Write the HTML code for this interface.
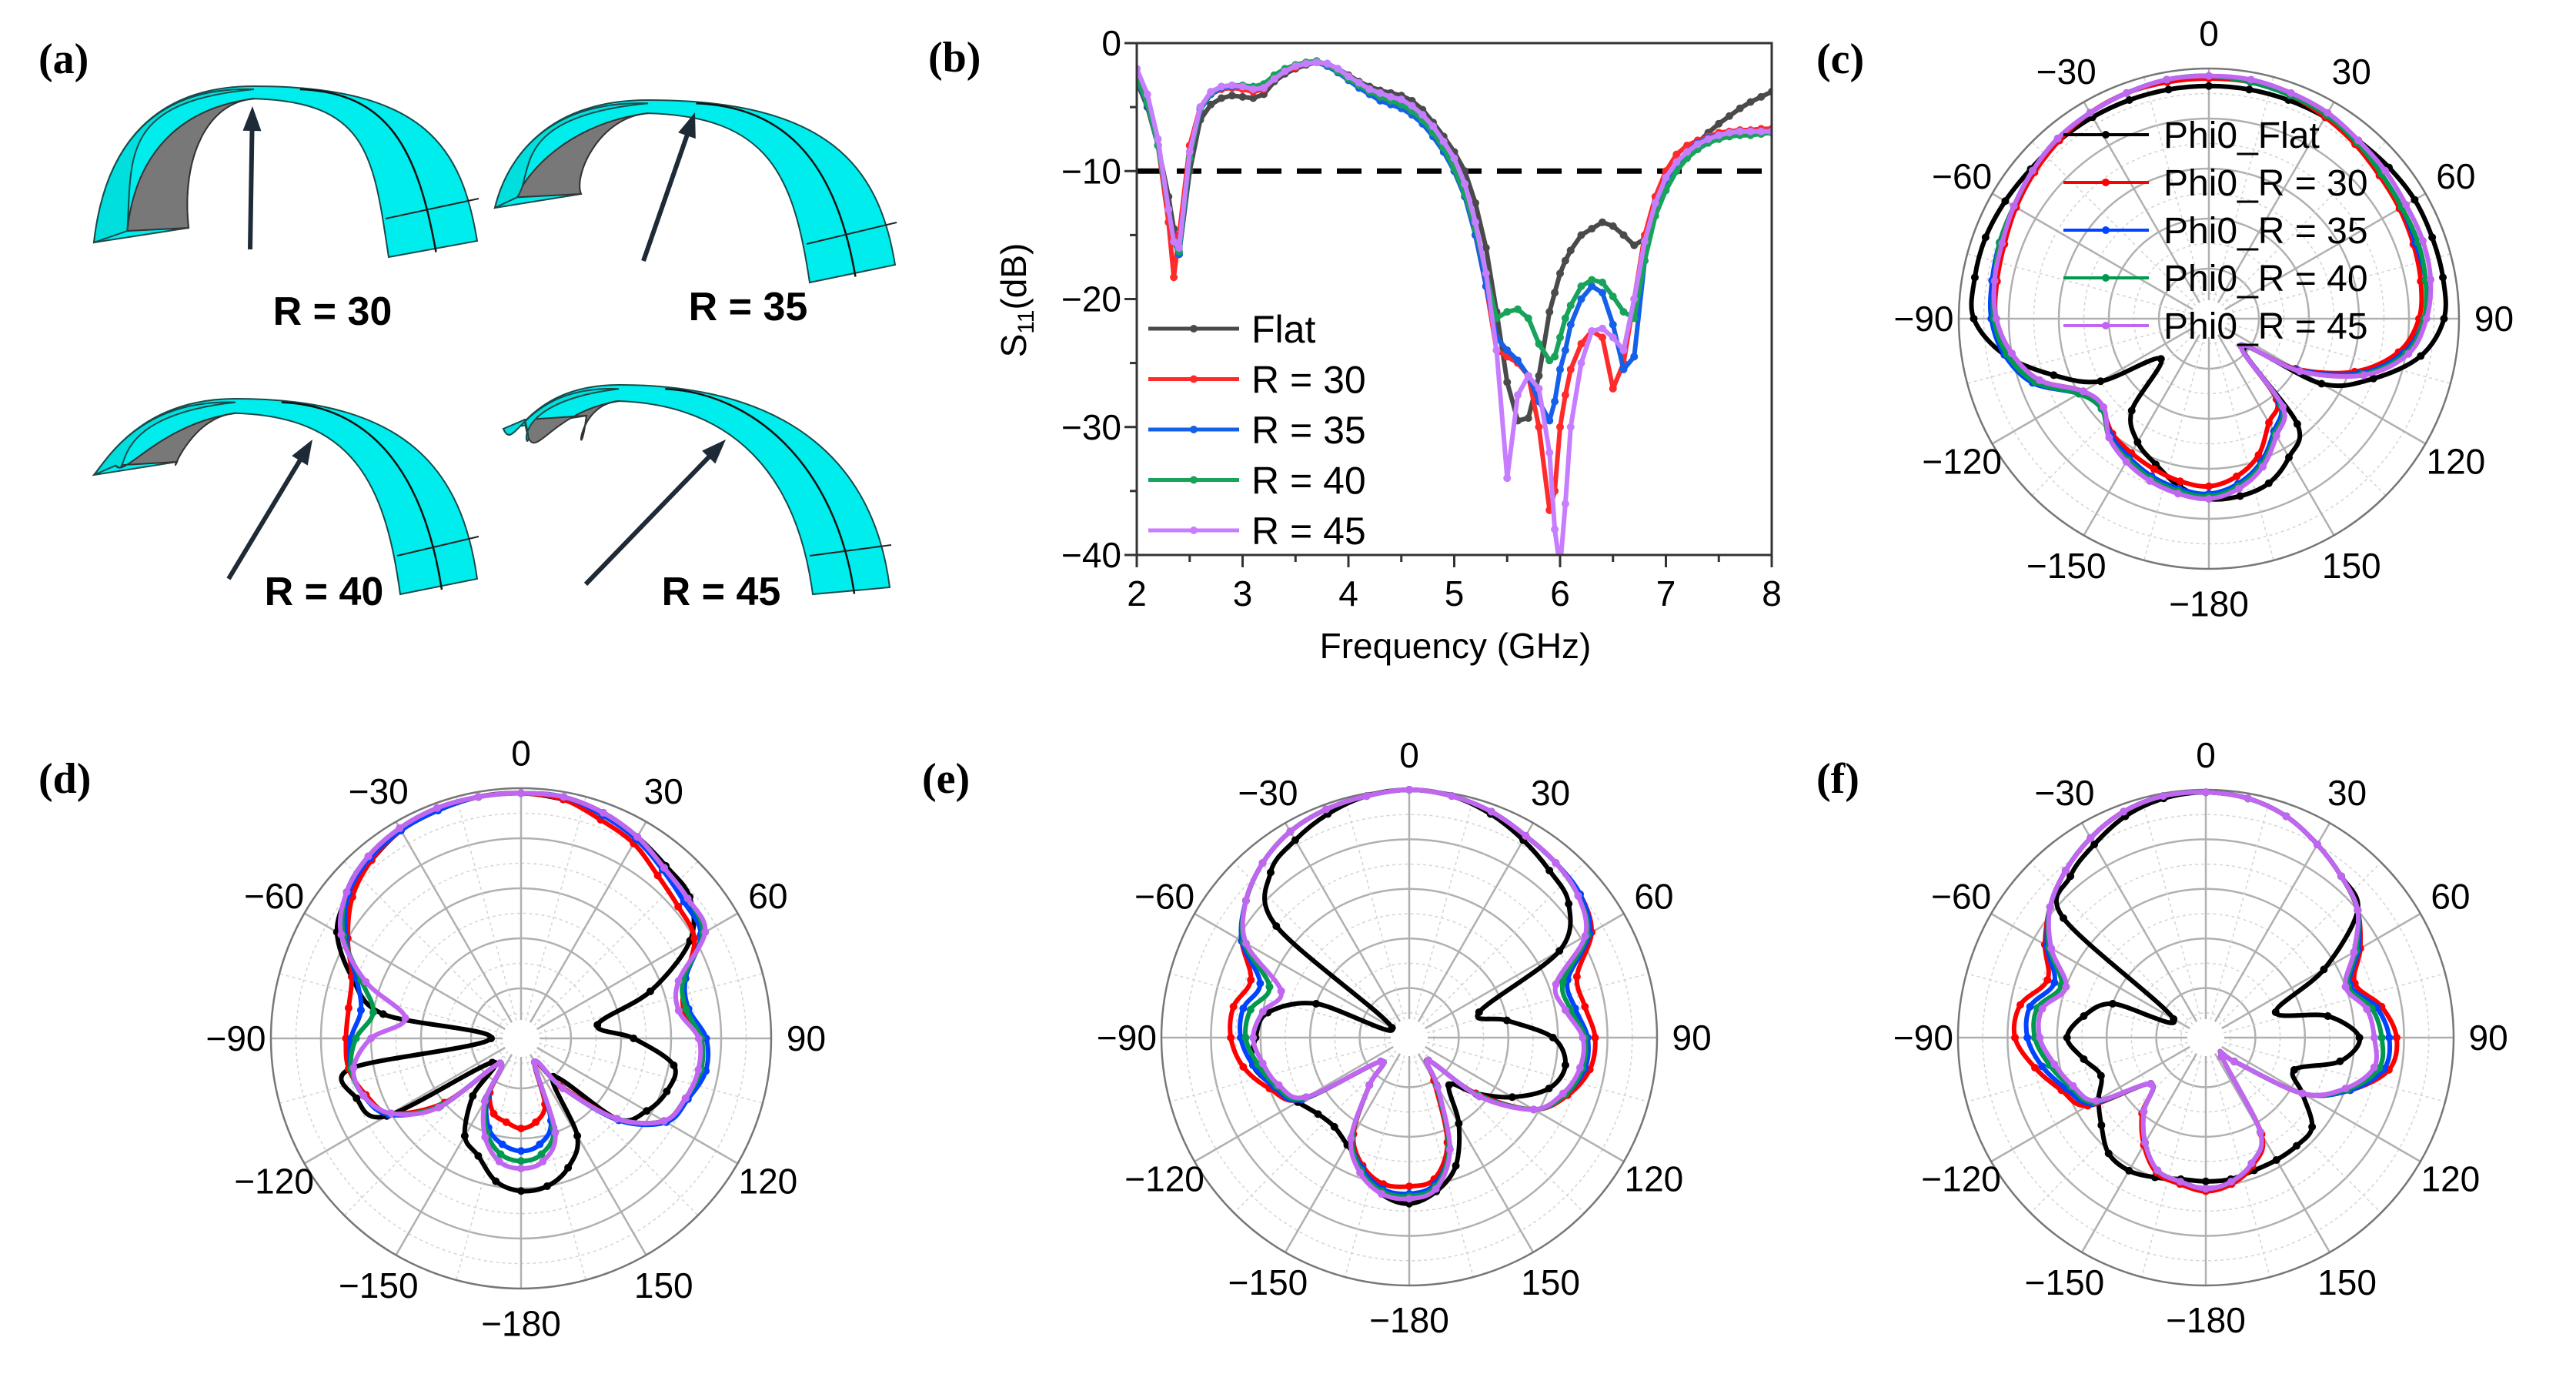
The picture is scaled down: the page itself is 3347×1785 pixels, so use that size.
<!DOCTYPE html>
<html><head><meta charset="utf-8"><style>
html,body{margin:0;padding:0;background:#fff;}
svg{display:block;font-family:"Liberation Sans",Arial,sans-serif;}
</style></head><body>
<svg id="fig" width="3347" height="1785" viewBox="0 0 3347 1785" xmlns="http://www.w3.org/2000/svg">
<rect width="3347" height="1785" fill="#fff"/>
<g id="panelA">
<text x="50" y="95" font-family="Liberation Serif,serif" font-weight="bold" font-size="56">(a)</text>
</g>
<g id="panelB"></g>
<g id="panelC"></g>
<g id="panelD"></g>
<g id="panelE"></g>
<g id="panelF"></g>
</svg>
<script>
// ---------- S11 data ----------
const freq=[2,2.1,2.2,2.3,2.35,2.4,2.5,2.6,2.7,2.8,2.9,3,3.1,3.2,3.3,3.4,3.5,3.6,3.7,3.8,3.9,4,4.1,4.2,4.3,4.4,4.5,4.6,4.7,4.8,4.9,5,5.1,5.2,5.3,5.4,5.5,5.6,5.7,5.8,5.9,5.95,6,6.05,6.1,6.2,6.3,6.4,6.5,6.6,6.7,6.8,6.9,7,7.1,7.2,7.3,7.4,7.5,7.6,7.7,7.8,7.9,8];
const s11Flat=[-3,-5,-8,-12,-14.5,-16.5,-10,-6,-4.8,-4.3,-4.1,-4.2,-4.3,-4,-3,-2.4,-2,-1.7,-1.5,-1.6,-2,-2.5,-3,-3.4,-3.7,-3.9,-4.1,-4.5,-5.2,-6.2,-7.3,-8.5,-10,-12.5,-16,-21,-26.5,-29.5,-29.3,-26,-21,-19.5,-18,-17,-16.2,-15,-14.5,-14,-14.3,-15,-15.8,-15.3,-13,-11,-9.5,-8.5,-7.8,-7,-6.3,-5.7,-5.1,-4.6,-4.2,-3.8];
const s11R30=[-2.5,-4.5,-8,-14,-18.3,-15,-8,-5,-4,-3.6,-3.5,-3.6,-3.8,-3.6,-2.8,-2.2,-1.9,-1.6,-1.5,-1.7,-2.1,-2.7,-3.3,-3.8,-4.2,-4.5,-4.8,-5.3,-6,-7,-8.3,-10,-12,-15,-19,-24,-24.5,-25,-26,-30,-36.5,-35,-30,-27.5,-25.5,-23.5,-22.5,-23,-27,-25,-20,-15,-12,-10,-8.7,-8,-7.6,-7.3,-7,-6.9,-6.8,-6.8,-6.7,-6.7];
const s11R35=[-2.8,-4.8,-8,-13,-15.5,-16.5,-9,-5.2,-4,-3.5,-3.4,-3.4,-3.5,-3.3,-2.6,-2.1,-1.8,-1.6,-1.5,-1.8,-2.3,-2.9,-3.5,-4,-4.5,-4.8,-5.1,-5.6,-6.3,-7.3,-8.5,-10,-12,-15,-19,-23,-24,-24.8,-26,-28,-29.5,-28,-25.5,-24,-22,-20,-19,-19.5,-22,-25.5,-24.5,-17,-13,-11,-9.5,-8.5,-7.8,-7.4,-7.2,-7,-6.9,-6.9,-6.9,-6.9];
const s11R40=[-2.7,-4.7,-8,-13,-15.5,-16.3,-9,-5.1,-3.9,-3.4,-3.3,-3.3,-3.4,-3.2,-2.5,-2,-1.7,-1.5,-1.4,-1.7,-2.2,-2.8,-3.3,-3.8,-4.2,-4.5,-4.8,-5.3,-6,-7,-8.2,-9.8,-11.8,-14.5,-18,-21.5,-21,-20.8,-21.5,-23.5,-24.8,-24.5,-23,-21.5,-20.5,-19,-18.5,-18.7,-19.8,-21,-21.5,-17,-13.5,-11.5,-10,-9,-8.3,-7.8,-7.5,-7.3,-7.2,-7.2,-7.1,-7];
const s11R45=[-2,-4,-7.5,-13,-15.5,-16,-8.5,-5,-3.8,-3.4,-3.3,-3.4,-3.6,-3.5,-2.8,-2.2,-1.8,-1.6,-1.5,-1.6,-2,-2.6,-3.1,-3.6,-3.9,-4.2,-4.4,-4.9,-5.6,-6.5,-7.7,-9,-11,-14,-18,-24,-34,-27.5,-26,-27,-32,-38,-41,-36,-30,-25,-22.5,-22.3,-23,-24,-20,-15.5,-12.5,-10.5,-9.3,-8.5,-7.9,-7.5,-7.2,-7,-6.9,-6.9,-6.9,-6.9];
const s11Labels=["Flat","R = 30","R = 35","R = 40","R = 45"];
const xTicks=[2,3,4,5,6,7,8];
const yTicks=[0,-10,-20,-30,-40];

// ---------- Polar data (radius normalised, angles 0..350 step 10, clockwise from top) ----------
const angles=[0,10,20,30,40,50,60,70,80,90,100,110,120,130,140,150,160,170,180,190,200,210,220,230,240,250,260,270,280,290,300,310,320,330,340,350];
const angleTickLabels=["0","30","60","90","120","150","\u2212180","\u2212150","\u2212120","\u221290","\u221260","\u221230"];
const cFlat=[0.93,0.93,0.93,0.93,0.93,0.94,0.95,0.95,0.95,0.94,0.86,0.70,0.52,0.18,0.55,0.64,0.70,0.72,0.72,0.68,0.62,0.57,0.48,0.25,0.50,0.66,0.83,0.94,0.95,0.95,0.94,0.93,0.93,0.93,0.93,0.93];
const cR30=[0.96,0.96,0.95,0.93,0.91,0.89,0.88,0.87,0.86,0.84,0.77,0.62,0.40,0.17,0.42,0.48,0.58,0.64,0.67,0.66,0.64,0.62,0.60,0.56,0.58,0.72,0.80,0.85,0.86,0.87,0.89,0.91,0.93,0.95,0.96,0.96];
const cR35=[0.97,0.96,0.95,0.94,0.92,0.90,0.89,0.88,0.88,0.86,0.79,0.64,0.41,0.17,0.44,0.52,0.61,0.67,0.70,0.69,0.67,0.64,0.61,0.56,0.60,0.75,0.83,0.87,0.88,0.89,0.90,0.92,0.94,0.95,0.96,0.97];
const cR40=[0.97,0.96,0.95,0.94,0.92,0.90,0.89,0.89,0.88,0.86,0.80,0.65,0.42,0.17,0.45,0.53,0.62,0.68,0.71,0.70,0.68,0.65,0.62,0.56,0.60,0.74,0.82,0.86,0.87,0.89,0.90,0.92,0.94,0.95,0.96,0.97];
const cR45=[0.97,0.97,0.96,0.95,0.93,0.92,0.91,0.91,0.90,0.87,0.81,0.66,0.42,0.17,0.46,0.54,0.63,0.69,0.72,0.71,0.69,0.66,0.62,0.55,0.58,0.72,0.80,0.85,0.87,0.88,0.90,0.92,0.94,0.95,0.96,0.97];
const dFlat=[0.98,0.97,0.96,0.93,0.90,0.88,0.78,0.55,0.31,0.45,0.62,0.62,0.58,0.50,0.20,0.45,0.55,0.60,0.61,0.58,0.50,0.45,0.30,0.15,0.62,0.70,0.69,0.12,0.56,0.72,0.85,0.90,0.93,0.96,0.97,0.98];
const dR30=[0.98,0.97,0.93,0.90,0.85,0.82,0.80,0.70,0.66,0.72,0.73,0.70,0.66,0.50,0.25,0.11,0.28,0.34,0.36,0.34,0.32,0.25,0.13,0.40,0.60,0.66,0.70,0.70,0.70,0.72,0.80,0.88,0.93,0.96,0.97,0.98];
const dR35=[0.98,0.98,0.95,0.92,0.88,0.85,0.83,0.70,0.68,0.74,0.75,0.71,0.67,0.51,0.26,0.11,0.35,0.43,0.45,0.43,0.38,0.27,0.13,0.42,0.61,0.67,0.69,0.68,0.65,0.70,0.81,0.90,0.94,0.96,0.97,0.98];
const dR40=[0.98,0.98,0.96,0.93,0.89,0.87,0.84,0.69,0.67,0.72,0.73,0.70,0.66,0.50,0.26,0.11,0.38,0.47,0.49,0.47,0.40,0.28,0.13,0.42,0.60,0.67,0.69,0.66,0.60,0.68,0.82,0.91,0.95,0.97,0.98,0.98];
const dR45=[0.98,0.98,0.96,0.93,0.89,0.87,0.85,0.67,0.64,0.71,0.72,0.70,0.66,0.50,0.26,0.11,0.40,0.50,0.52,0.50,0.42,0.29,0.13,0.43,0.60,0.67,0.68,0.60,0.47,0.66,0.83,0.91,0.95,0.97,0.98,0.98];
const eFlat=[1.0,0.99,0.96,0.92,0.88,0.84,0.70,0.30,0.40,0.58,0.64,0.60,0.48,0.35,0.25,0.40,0.55,0.63,0.67,0.64,0.55,0.50,0.47,0.48,0.52,0.58,0.64,0.62,0.58,0.40,0.08,0.70,0.87,0.92,0.96,0.99];
const eR30=[1.0,0.99,0.97,0.94,0.92,0.90,0.85,0.72,0.72,0.75,0.74,0.68,0.58,0.35,0.12,0.20,0.45,0.58,0.60,0.60,0.55,0.45,0.25,0.15,0.50,0.60,0.68,0.72,0.72,0.68,0.78,0.86,0.92,0.96,0.98,0.99];
const eR35=[1.0,0.99,0.97,0.94,0.92,0.90,0.84,0.68,0.68,0.72,0.72,0.67,0.58,0.36,0.12,0.22,0.47,0.60,0.63,0.62,0.56,0.46,0.25,0.15,0.50,0.58,0.64,0.68,0.68,0.64,0.78,0.86,0.92,0.96,0.98,0.99];
const eR40=[1.0,0.99,0.97,0.94,0.92,0.89,0.83,0.66,0.66,0.71,0.71,0.67,0.58,0.36,0.12,0.22,0.47,0.61,0.64,0.63,0.57,0.46,0.25,0.15,0.49,0.57,0.62,0.66,0.65,0.60,0.77,0.86,0.92,0.96,0.98,0.99];
const eR45=[1.0,0.99,0.97,0.94,0.92,0.89,0.82,0.63,0.64,0.70,0.70,0.66,0.58,0.37,0.12,0.23,0.48,0.62,0.65,0.64,0.58,0.47,0.25,0.15,0.48,0.56,0.60,0.63,0.60,0.55,0.76,0.86,0.92,0.96,0.98,0.99];
const fFlat=[0.99,0.98,0.95,0.90,0.85,0.80,0.55,0.30,0.50,0.62,0.55,0.38,0.45,0.56,0.57,0.57,0.57,0.58,0.58,0.58,0.60,0.62,0.61,0.55,0.50,0.45,0.50,0.56,0.50,0.40,0.15,0.75,0.85,0.90,0.95,0.98];
const fR30=[0.99,0.98,0.95,0.90,0.85,0.80,0.72,0.64,0.72,0.77,0.75,0.62,0.45,0.15,0.10,0.45,0.55,0.60,0.62,0.60,0.58,0.50,0.40,0.29,0.55,0.62,0.70,0.77,0.76,0.68,0.75,0.82,0.88,0.93,0.97,0.99];
const fR35=[0.99,0.98,0.95,0.90,0.85,0.80,0.71,0.62,0.70,0.74,0.73,0.62,0.45,0.15,0.10,0.44,0.54,0.59,0.61,0.59,0.57,0.49,0.39,0.29,0.53,0.60,0.67,0.72,0.72,0.65,0.74,0.82,0.88,0.93,0.97,0.99];
const fR40=[0.99,0.98,0.95,0.90,0.85,0.80,0.70,0.61,0.68,0.71,0.71,0.61,0.45,0.15,0.10,0.44,0.54,0.59,0.61,0.59,0.57,0.49,0.39,0.29,0.52,0.58,0.64,0.69,0.69,0.62,0.73,0.82,0.88,0.93,0.97,0.99];
const fR45=[0.99,0.98,0.95,0.90,0.85,0.80,0.69,0.60,0.66,0.68,0.69,0.60,0.45,0.15,0.10,0.44,0.54,0.59,0.61,0.59,0.57,0.49,0.39,0.29,0.51,0.57,0.62,0.67,0.67,0.60,0.72,0.82,0.88,0.93,0.97,0.99];
const polarLegend=["Phi0_Flat","Phi0_R = 30","Phi0_R = 35","Phi0_R = 40","Phi0_R = 45"];

const NS="http://www.w3.org/2000/svg";
function mk(tag,attrs,parent){const e=document.createElementNS(NS,tag);for(const k in attrs)e.setAttribute(k,attrs[k]);if(parent)parent.appendChild(e);return e;}

// ---------- Panel A: bent antenna models ----------
const gA=document.getElementById('panelA');
const arches=[
 {lx:122,ly:315,ix:245,iy:296,tx:330,ty:112,rx:620,ry:313,bx:505,by:334,a1:[325,324],a2:[328,138],lab:"R = 30",labx:432,laby:422},
 {lx:643,ly:270,ix:755,iy:252,tx:842,ty:130,rx:1163,ry:344,bx:1052,by:367,a1:[836,339],a2:[903,146],lab:"R = 35",labx:972,laby:416},
 {lx:122,ly:617,ix:230,iy:600,tx:306,ty:518,rx:620,ry:752,bx:520,by:772,a1:[297,752],a2:[406,571],lab:"R = 40",labx:421,laby:786},
 {lx:654,ly:557,ix:762,iy:540,tx:804,ty:500,rx:1156,ry:763,bx:1056,by:772,a1:[761,759],a2:[943,571],lab:"R = 45",labx:937,laby:786}
];
arches.forEach((a,i)=>{
  const g=mk('g',{},gA);
  
  
  const w=a.rx-a.lx, h=Math.max(a.ly,a.ry)-a.ty;
  // full cyan band (outer edge to inner edge)
  const outer=`M${a.lx},${a.ly} C${a.lx+w*0.03},${a.ty+h*0.35} ${a.tx-w*0.25},${a.ty} ${a.tx},${a.ty} C${a.tx+w*0.45},${a.ty} ${a.rx-w*0.04},${a.ty+h*0.4} ${a.rx},${a.ry}`;
  const innerBack=`L${a.bx},${a.by} C${a.bx-w*0.04},${a.ty+h*0.45} ${a.tx+w*0.3},${a.ty+h*0.1} ${a.tx},${a.ty+h*0.08} C${a.tx-w*0.12},${a.ty+h*0.1} ${a.ix-w*0.02},${a.ty+h*0.45} ${a.ix},${a.iy} Z`;
  mk('path',{d:outer+innerBack,fill:'#00eded',stroke:'#1a4a4a','stroke-width':2},g);
  // grey inner face on left side
  mk('path',{d:`M${a.ix},${a.iy} C${a.ix-w*0.02},${a.ty+h*0.45} ${a.tx-w*0.12},${a.ty+h*0.1} ${a.tx},${a.ty+h*0.08} C${a.tx-w*0.2},${a.ty+h*0.14} ${a.ix-w*0.14},${a.ty+h*0.45} ${a.ix-w*0.16},${a.iy+h*0.02} Z`,fill:'#787878',stroke:'#333','stroke-width':2},g);
  // left cyan strip (front face)
  mk('path',{d:`M${a.lx},${a.ly} C${a.lx+w*0.03},${a.ty+h*0.35} ${a.tx-w*0.25},${a.ty} ${a.tx},${a.ty+h*0.02} C${a.tx-w*0.35},${a.ty+h*0.1} ${a.lx+w*0.1},${a.ty+h*0.45} ${a.ix-w*0.16},${a.iy+h*0.02} Z`,fill:'#00dede',stroke:'#1a4a4a','stroke-width':2},g);
  // center trace line
  mk('path',{d:`M${(a.rx+a.bx)/2+4},${(a.ry+a.by)/2+4} C${(a.rx+a.bx)/2-w*0.04},${a.ty+h*0.4} ${a.tx+w*0.35},${a.ty+h*0.04} ${a.tx+w*0.12},${a.ty+h*0.02}`,fill:'none',stroke:'#111','stroke-width':2.5},g);
  mk('line',{x1:a.bx-4,y1:a.by-50,x2:a.rx+2,y2:a.ry-55,stroke:'#222','stroke-width':2},g);
  const ar=mk('g',{},g);
  
  
  const dx=a.a2[0]-a.a1[0],dy=a.a2[1]-a.a1[1],L=Math.hypot(dx,dy),ux=dx/L,uy=dy/L;
  mk('line',{x1:a.a1[0],y1:a.a1[1],x2:a.a2[0]-ux*20,y2:a.a2[1]-uy*20,stroke:'#1e2a36','stroke-width':6},ar);
  mk('polygon',{points:`${a.a2[0]},${a.a2[1]} ${a.a2[0]-ux*32-uy*12},${a.a2[1]-uy*32+ux*12} ${a.a2[0]-ux*32+uy*12},${a.a2[1]-uy*32-ux*12}`,fill:'#1e2a36'},ar);
  const t=mk('text',{x:a.labx,y:a.laby,'text-anchor':'middle','font-size':52,'font-weight':'bold'},g);
  t.textContent=a.lab;
  
  
});

// ---------- Panel B: S11 ----------
const gB=document.getElementById('panelB');
const X0=1477,X1=2302,Y0=56,Y1=721;
const xs=v=>X0+(v-2)/6*(X1-X0);
const ys=v=>Y0+(0-v)/40*(Y1-Y0);
const lb=mk('text',{x:1206,y:93,'font-family':'Liberation Serif,serif','font-weight':'bold','font-size':56},gB);lb.textContent='(b)';


mk('defs',{},gB).innerHTML='<clipPath id="clipB"><rect x="1477" y="56" width="825" height="665"/></clipPath>';
const seriesB=[s11Flat,s11R30,s11R35,s11R40,s11R45];
const colB=['#4a4a4a','#ff2a2a','#1560e8','#17a35a','#c77dff'];
const dash=mk('line',{x1:X0,y1:ys(-10),x2:X1-10,y2:ys(-10),stroke:'#000','stroke-width':7,'stroke-dasharray':'32,20'},gB);


seriesB.forEach((s,k)=>{
  const g=mk('g',{'clip-path':'url(#clipB)'},gB);
  
  
  let d='';
  freq.forEach((f,i)=>{d+=(i?'L':'M')+xs(f).toFixed(1)+','+ys(s[i]).toFixed(1);});
  mk('path',{d:d,fill:'none',stroke:colB[k],'stroke-width':6,'stroke-linejoin':'round'},g);
  freq.forEach((f,i)=>{mk('circle',{cx:xs(f),cy:ys(s[i]),r:5,fill:colB[k]},g);});
});
mk('rect',{x:X0,y:Y0,width:X1-X0,height:Y1-Y0,fill:'none',stroke:'#333','stroke-width':3},gB);
xTicks.forEach(v=>{
  mk('line',{x1:xs(v),y1:Y1,x2:xs(v),y2:Y1+16,stroke:'#333','stroke-width':3},gB);
  if(v<8)mk('line',{x1:xs(v+0.5),y1:Y1,x2:xs(v+0.5),y2:Y1+9,stroke:'#333','stroke-width':3},gB);
  const t=mk('text',{x:xs(v),y:Y1+66,'text-anchor':'middle','font-size':46},gB);t.textContent=v;
  
  
});
yTicks.forEach(v=>{
  mk('line',{x1:X0-16,y1:ys(v),x2:X0,y2:ys(v),stroke:'#333','stroke-width':3},gB);
  if(v>-40)mk('line',{x1:X0-9,y1:ys(v-5),x2:X0,y2:ys(v-5),stroke:'#333','stroke-width':3},gB);
  const t=mk('text',{x:X0-20,y:ys(v)+16,'text-anchor':'end','font-size':46},gB);t.textContent=v===0?'0':'\u2212'+(-v);
  
  
});
const xt=mk('text',{x:1891,y:855,'text-anchor':'middle','font-size':46},gB);xt.textContent='Frequency (GHz)';


const yt=mk('text',{transform:'translate(1333,390) rotate(-90)','text-anchor':'middle','font-size':46},gB);
yt.innerHTML='S<tspan font-size="30" dy="10">11</tspan><tspan dy="-10">(dB)</tspan>';


s11Labels.forEach((l,k)=>{
  const y=427+k*65.5;
  const g=mk('g',{},gB);
  
  
  mk('line',{x1:1492,y1:y,x2:1610,y2:y,stroke:colB[k],'stroke-width':5},g);
  mk('circle',{cx:1551,cy:y,r:5,fill:colB[k]},g);
  const t=mk('text',{x:1626,y:y+18,'font-size':50},g);t.textContent=l;
});

// ---------- Polar panels ----------
const colP=['#000000','#ff0000','#0044ff','#00994d','#c066f0'];
function catmull(pts){
  let d='';const n=pts.length;
  for(let i=0;i<n;i++){
    const p0=pts[(i-1+n)%n],p1=pts[i],p2=pts[(i+1)%n],p3=pts[(i+2)%n];
    if(i===0)d+='M'+p1[0].toFixed(1)+','+p1[1].toFixed(1);
    const c1=[p1[0]+(p2[0]-p0[0])/6,p1[1]+(p2[1]-p0[1])/6],c2=[p2[0]-(p3[0]-p1[0])/6,p2[1]-(p3[1]-p1[1])/6];
    d+=`C${c1[0].toFixed(1)},${c1[1].toFixed(1)} ${c2[0].toFixed(1)},${c2[1].toFixed(1)} ${p2[0].toFixed(1)},${p2[1].toFixed(1)}`;
  }
  return d+'Z';
}
function polar(id,cx,cy,R,series,label,lx,ly,legend){
  const g=document.getElementById(id);
  const pr=(r,t)=>[cx+r*R*Math.sin(t*Math.PI/180),cy-r*R*Math.cos(t*Math.PI/180)];
  const grid=mk('g',{},g);
  
  
  for(let k=1;k<10;k++)mk('circle',{cx:cx,cy:cy,r:R*k/10,fill:'none',stroke:k%2?'#d4d4d4':'#b0b0b0','stroke-width':k%2?1.5:2.5,'stroke-dasharray':k%2?'4,4':'none'},grid);
  for(let a=0;a<360;a+=15){const p=pr(1,a);mk('line',{x1:cx,y1:cy,x2:p[0],y2:p[1],stroke:a%30?'#d4d4d4':'#b0b0b0','stroke-width':a%30?1.5:2.5,'stroke-dasharray':a%30?'4,4':'none'},grid);}
  mk('circle',{cx:cx,cy:cy,r:R,fill:'none',stroke:'#777','stroke-width':2.5},grid);
  mk('circle',{cx:cx,cy:cy,r:24,fill:'#fff'},grid);
  angleTickLabels.forEach((l,i)=>{
    const p=pr(1.14,i*30);
    const t=mk('text',{x:p[0],y:p[1]+16,'text-anchor':'middle','font-size':46},g);t.textContent=l;
    
    
  });
  series.forEach((s,k)=>{
    const sg=mk('g',{},g);
    
    
    const pts=angles.map((a,i)=>pr(s[i],a));
    mk('path',{d:catmull(pts),fill:'none',stroke:colP[k],'stroke-width':6,'stroke-linejoin':'round'},sg);
    pts.forEach(p=>mk('circle',{cx:p[0],cy:p[1],r:5,fill:colP[k]},sg));
  });
  const t=mk('text',{x:lx,y:ly,'font-family':'Liberation Serif,serif','font-weight':'bold','font-size':56},g);t.textContent=label;
  
  
  if(legend){
    polarLegend.forEach((l,k)=>{
      const y=175+k*62;
      const lg=mk('g',{},g);
      
      
      mk('line',{x1:2681,y1:y,x2:2792,y2:y,stroke:colP[k],'stroke-width':4},lg);
      mk('circle',{cx:2736,cy:y,r:5,fill:colP[k]},lg);
      const tt=mk('text',{x:2811,y:y+17,'font-size':48},lg);tt.textContent=l;
    });
  }
}
polar('panelC',2870,414,325,[cFlat,cR30,cR35,cR40,cR45],'(c)',2360,95,true);
polar('panelD',677,1349,325,[dFlat,dR30,dR35,dR40,dR45],'(d)',50,1030,false);
polar('panelE',1831,1348,322,[eFlat,eR30,eR35,eR40,eR45],'(e)',1198,1030,false);
polar('panelF',2866,1348,322,[fFlat,fR30,fR35,fR40,fR45],'(f)',2360,1030,false);
</script>
</body></html>
